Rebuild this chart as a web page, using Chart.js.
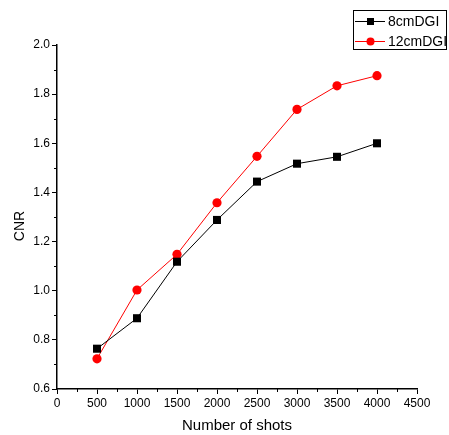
<!DOCTYPE html>
<html>
<head>
<meta charset="utf-8">
<script src="https://cdn.jsdelivr.net/npm/chart.js@4/dist/chart.umd.min.js"></script>
<style>
  html, body { margin: 0; padding: 0; background: #fff; }
  #wrap { width: 449px; height: 435px; position: relative; }
</style>
</head>
<body>
<div id="wrap"><canvas id="chart" width="449" height="435"></canvas></div>
<script>
// values
const shots = [500, 1000, 1500, 2000, 2500, 3000, 3500, 4000];
const cnr8 = [0.764, 0.888, 1.118, 1.288, 1.444, 1.517, 1.545, 1.600];
const cnr12 = [0.723, 1.003, 1.148, 1.358, 1.547, 1.738, 1.834, 1.875];
const seriesNames = ["8cmDGI", "12cmDGI"];
const yTitle = "CNR";

const FONT = "Arial, 'Liberation Sans', sans-serif";
const toPts = (ys) => shots.map((x, i) => ({ x: x, y: ys[i] }));

// minor ticks halfway between the major ones, drawn through the scales
const minorTicks = {
  id: "minorTicks",
  afterDraw(chart) {
    const ctx = chart.ctx;
    const xs = chart.scales.x, ys = chart.scales.y;
    ctx.save();
    ctx.strokeStyle = "#000";
    ctx.lineWidth = 1;
    ctx.beginPath();
    for (let v = 250; v < 4500; v += 500) {
      const px = Math.round(xs.getPixelForValue(v)) + 0.5;
      ctx.moveTo(px, ys.bottom);
      ctx.lineTo(px, ys.bottom + 3);
    }
    for (let v = 0.7; v < 2.0; v += 0.2) {
      const py = Math.round(ys.getPixelForValue(v)) + 0.5;
      ctx.moveTo(xs.left, py);
      ctx.lineTo(xs.left - 3, py);
    }
    ctx.stroke();
    // y axis title, sits a bit below the middle like the original
    ctx.fillStyle = "#000";
    ctx.font = "14px " + FONT;
    ctx.textAlign = "center";
    ctx.textBaseline = "middle";
    ctx.translate(20, 226);
    ctx.rotate(-Math.PI / 2);
    ctx.fillText(yTitle, 0, 0);
    ctx.restore();
  }
};

// legend box in the top right corner
const boxLegend = {
  id: "boxLegend",
  afterDraw(chart) {
    const ctx = chart.ctx;
    const x0 = 353, y0 = 10, w = 94, h = 40;
    ctx.save();
    ctx.fillStyle = "#fff";
    ctx.fillRect(x0, y0, w, h);
    ctx.strokeStyle = "#000";
    ctx.lineWidth = 1;
    ctx.strokeRect(x0 + 0.5, y0 + 0.5, w - 1, h - 1);
    ctx.font = "14px " + FONT;
    ctx.textBaseline = "middle";
    chart.data.datasets.forEach((ds, i) => {
      const cy = y0 + 11 + i * 20;
      ctx.strokeStyle = ds.borderColor;
      ctx.beginPath();
      ctx.moveTo(x0 + 2, cy + 0.5);
      ctx.lineTo(x0 + 32, cy + 0.5);
      ctx.stroke();
      ctx.fillStyle = ds.pointBackgroundColor;
      if (ds.pointStyle === "rect") {
        ctx.fillRect(x0 + 14, cy - 3, 7, 7);
      } else {
        ctx.beginPath();
        ctx.arc(x0 + 17.5, cy + 0.5, 4, 0, Math.PI * 2);
        ctx.fill();
      }
      ctx.fillStyle = "#000";
      ctx.fillText(ds.label, x0 + 35, cy + 1);
    });
    ctx.restore();
  }
};

new Chart(document.getElementById("chart"), {
  type: "line",
  plugins: [minorTicks, boxLegend],
  data: {
    datasets: [
      {
        label: seriesNames[0],
        data: toPts(cnr8),
        borderColor: "#000",
        borderWidth: 1,
        pointStyle: "rect",
        pointRadius: 5.7,
        pointBackgroundColor: "#000",
        pointBorderColor: "#000",
        pointBorderWidth: 0
      },
      {
        label: seriesNames[1],
        data: toPts(cnr12),
        borderColor: "#ff0000",
        borderWidth: 1,
        pointStyle: "circle",
        pointRadius: 4.6,
        pointBackgroundColor: "#ff0000",
        pointBorderColor: "#ff0000",
        pointBorderWidth: 0
      }
    ]
  },
  options: {
    responsive: false,
    animation: false,
    devicePixelRatio: 1,
    layout: { padding: { left: 0, right: 32, top: 45, bottom: 0 } },
    plugins: { legend: { display: false }, tooltip: { enabled: false } },
    scales: {
      x: {
        type: "linear",
        min: 0,
        max: 4500,
        afterFit: (s) => { s.height = 46; },
        ticks: {
          stepSize: 500,
          color: "#000",
          font: { family: FONT, size: 12 },
          callback: (v) => String(v),
          maxRotation: 0,
          autoSkip: false,
          padding: 2
        },
        grid: { drawOnChartArea: false, drawTicks: true, tickLength: 5, tickColor: "#000" },
        border: { display: true, color: "#000", width: 1.5 },
        title: {
          display: true,
          text: "Number of shots",
          color: "#000",
          font: { family: FONT, size: 15 },
          padding: { top: 9, bottom: 0 }
        }
      },
      y: {
        min: 0.6,
        max: 2.0,
        afterFit: (s) => { s.width = 57; },
        ticks: {
          stepSize: 0.2,
          color: "#000",
          font: { family: FONT, size: 12 },
          callback: (v) => v.toFixed(1),
          autoSkip: false,
          padding: 2
        },
        grid: { drawOnChartArea: false, drawTicks: true, tickLength: 5, tickColor: "#000" },
        border: { display: true, color: "#000", width: 1.5 },
        title: { display: false }
      }
    }
  }
});
</script>
</body>
</html>
